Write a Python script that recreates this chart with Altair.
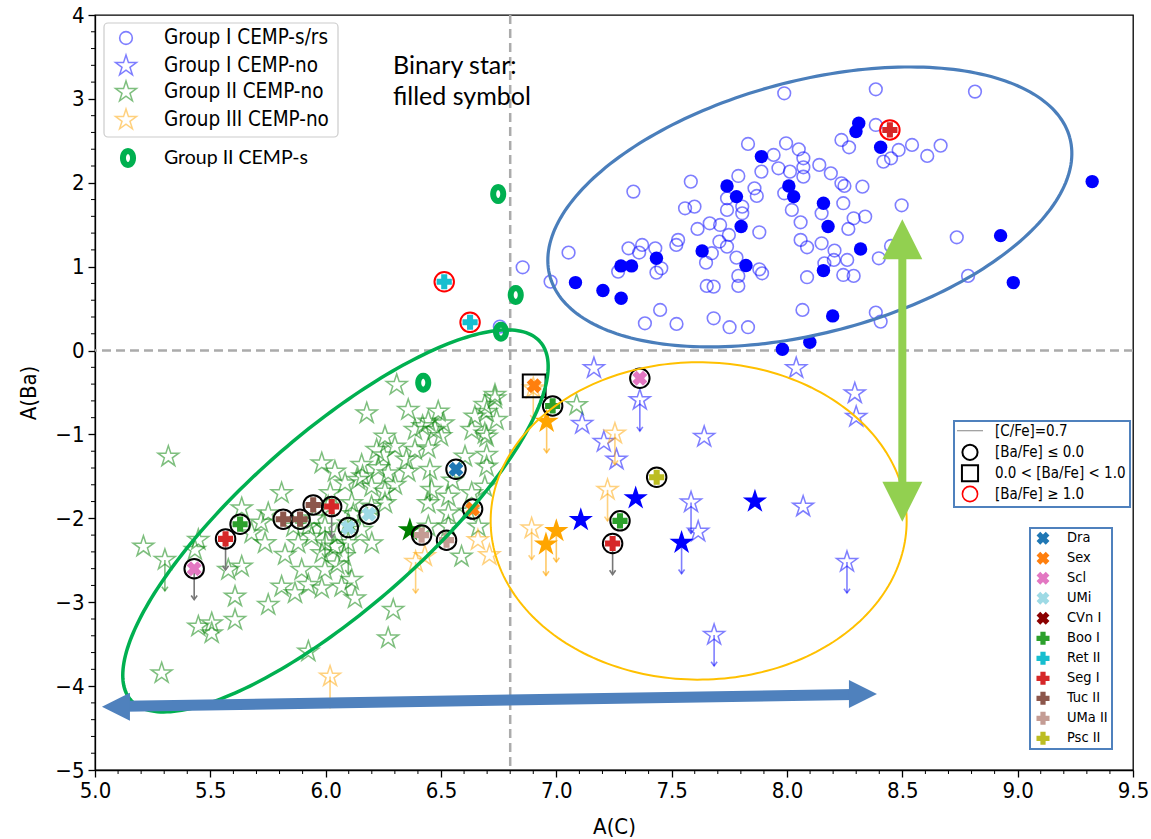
import altair as alt
import numpy as np
import pandas as pd

W, H = 1038, 755
X_DOM = [5.0, 9.5]
Y_DOM = [-5.0, 4.0]
PX_X = W / (X_DOM[1] - X_DOM[0])
PX_Y = H / (Y_DOM[1] - Y_DOM[0])
FONT = "DejaVu Sans Condensed, DejaVu Sans"
CAL = "Lato"

x_ticks = [5.0, 5.5, 6.0, 6.5, 7.0, 7.5, 8.0, 8.5, 9.0, 9.5]
y_ticks = [-5, -4, -3, -2, -1, 0, 1, 2, 3, 4]
x_minor = [round(5.0 + 0.1 * i, 1) for i in range(46) if i % 5 != 0]
y_minor = [round(-5.0 + 0.2 * i, 1) for i in range(46) if i % 5 != 0]

# Group I CEMP-s/rs (open circles)
g1s_x = [7.988, 8.385, 8.815, 8.385, 8.236, 8.269, 7.831, 7.996, 8.051, 7.942, 8.071, 8.140, 7.963, 8.013,
         8.071, 8.071, 7.889, 8.190, 7.789, 7.583, 7.334, 8.236, 8.249, 8.327, 7.859, 7.869, 7.988, 7.740,
         7.806, 7.740, 7.558, 7.599, 8.021, 8.244, 8.150, 8.497, 7.806, 8.289, 8.339, 8.059, 8.266, 7.665,
         7.612, 7.710, 7.880, 8.736, 7.528, 7.520, 7.748, 7.707, 7.740, 7.313, 7.372, 7.429, 7.359, 7.674,
         7.781, 8.059, 8.087, 8.150, 8.206, 8.261, 8.203, 8.398, 8.451, 7.649, 7.434, 7.455, 7.268, 7.053,
         6.975, 7.880, 7.892, 7.789, 7.652, 7.682, 7.789, 8.087, 8.162, 8.244, 8.289, 8.785, 7.450, 7.384,
         7.521, 7.682, 7.751, 7.831, 8.067, 8.385, 8.406, 8.542, 8.666, 8.608, 8.484, 8.451, 8.418, 6.854,
         6.748, 6.824, 6.755, 6.423]
g1s_y = [3.067, 3.114, 3.087, 2.689, 2.510, 2.423, 2.463, 2.471, 2.399, 2.332, 2.292, 2.213, 2.173, 2.133,
         2.185, 2.073, 2.133, 2.113, 2.081, 2.014, 1.895, 1.994, 1.962, 1.954, 1.934, 1.843, 1.875, 1.815,
         1.716, 1.676, 1.696, 1.716, 1.676, 1.756, 1.636, 1.732, 1.636, 1.577, 1.597, 1.529, 1.450, 1.517,
         1.450, 1.497, 1.410, 1.350, 1.319, 1.259, 1.378, 1.299, 1.239, 1.219, 1.259, 1.219, 1.168, 1.160,
         1.108, 1.319, 1.231, 1.279, 1.192, 1.080, 1.080, 1.100, 1.247, 1.048, 0.929, 0.981, 0.941, 1.168,
         0.822, 0.969, 0.921, 0.890, 0.770, 0.762, 0.770, 0.874, 1.040, 0.901, 0.890, 0.890, 0.484, 0.325,
         0.317, 0.385, 0.278, 0.278, 0.484, 0.453, 0.345, 2.451, 2.443, 2.320, 2.391, 2.292, 2.252, 0.993,
         1.866, 0.663, 0.285, -0.383]
# Group I CEMP-s/rs binaries (filled circles)
g1s_bin_x = [8.311, 8.299, 8.406, 7.889, 7.740, 7.781, 8.008, 8.029, 8.158, 8.178, 7.801, 7.632, 7.434, 7.822,
             7.280, 7.326, 8.319, 8.158, 7.083, 7.202, 7.281, 8.198, 8.926, 8.981, 9.323, 7.980, 8.099]
g1s_bin_y = [2.709, 2.610, 2.423, 2.312, 1.962, 1.835, 1.962, 1.835, 1.756, 1.478, 1.478, 1.188, 1.100, 1.013,
             1.009, 1.009, 1.211, 0.953, 0.810, 0.715, 0.623, 0.413, 1.370, 0.810, 2.014, 0.015, 0.099]

# Group I CEMP-no (open stars)
g1no_x = [7.163, 8.040, 8.294, 8.300, 7.112, 7.206, 7.261, 7.362, 7.641, 7.584, 7.615, 8.070, 8.260, 7.684]
g1no_y = [-0.21, -0.21, -0.51, -0.79, -0.875, -1.09, -1.30, -0.59, -1.03, -1.81, -2.16, -1.86, -2.52, -3.39]
g1no_ul = [0, 0, 0, 0, 0, 0, 0, 1, 0, 1, 0, 0, 1, 1]
g1no_bin_x = [7.106, 7.344, 7.543, 7.861]
g1no_bin_y = [-2.02, -1.76, -2.29, -1.80]
g1no_bin_ul = [0, 0, 1, 0]

# Group II CEMP-no (open stars)
g2no_x = [6.308, 6.734, 6.178, 6.358, 6.488, 6.445, 6.510, 6.647, 6.690, 6.741, 6.387, 6.474, 6.698, 6.633,
          6.257, 6.221, 6.300, 6.387, 6.445, 6.698, 6.604, 5.983, 6.040, 6.156, 6.228, 6.271, 6.358, 6.452,
          6.698, 5.809, 6.084, 6.141, 6.199, 6.257, 6.459, 6.532, 6.633, 6.690, 5.636, 5.751, 6.011, 6.113,
          6.199, 6.257, 6.445, 6.532, 6.618, 5.448, 5.679, 5.925, 5.997, 6.098, 6.156, 6.445, 6.532, 6.662,
          5.210, 5.433, 5.737, 5.824, 5.881, 5.939, 5.983, 6.040, 6.098, 6.589, 5.303, 5.578, 5.636, 5.896,
          5.997, 6.113, 5.809, 5.925, 5.983, 6.069, 6.127, 5.751, 5.607, 5.867, 5.607, 5.448, 5.506, 5.506,
          6.271, 6.293, 5.925, 5.289, 5.318, 6.734, 6.698, 6.690, 7.088, 6.050, 6.000, 6.080, 5.950, 6.120,
          6.020, 6.160, 6.250, 6.420, 6.500, 6.350, 6.550, 6.300, 5.860, 6.200, 5.720, 6.050]
g2no_y = [-0.410, -0.529, -0.748, -0.708, -0.728, -0.847, -0.867, -0.787, -0.648, -0.827, -0.946, -0.946,
          -1.026, -0.946, -1.026, -1.185, -1.145, -1.185, -1.165, -1.244, -1.264, -1.344, -1.443, -1.363,
          -1.403, -1.463, -1.443, -1.423, -1.383, -1.701, -1.582, -1.542, -1.622, -1.681, -1.661, -1.741,
          -1.701, -1.622, -1.880, -1.940, -1.860, -1.820, -1.860, -1.820, -1.820, -1.940, -1.920, -2.257,
          -2.178, -2.098, -2.098, -2.059, -2.138, -2.098, -2.098, -2.098, -2.337, -2.377, -2.297, -2.436,
          -2.297, -2.218, -2.416, -2.337, -2.297, -2.456, -2.496, -2.615, -2.575, -2.615, -2.615, -2.734,
          -2.814, -2.794, -2.834, -2.814, -2.953, -3.032, -2.933, -2.893, -3.211, -3.290, -3.251, -3.370,
          -3.430, -3.092, -3.588, -3.847, -1.264, -0.570, -0.730, -0.990, -0.650, -2.200, -2.300, -2.450,
          -2.000, -1.950, -1.700, -1.500, -1.250, -0.900, -1.020, -1.300, -1.550, -1.600, -2.100, -2.300,
          -2.050, -2.550]
g2no_ul_idx = [27, 50, 64, 66]
g2no_bin_x = [6.365]
g2no_bin_y = [-2.14]

# Group III CEMP-no (open stars)
g3no_x = [6.019, 6.390, 6.430, 6.660, 6.710, 6.893, 6.900, 7.254, 7.222]
g3no_y = [-3.886, -2.52, -2.45, -2.26, -2.44, -2.12, -0.45, -0.99, -1.66]
g3no_ul = [1, 1, 0, 0, 0, 1, 1, 1, 1]
g3no_bin_x = [6.958, 7.000, 6.955]
g3no_bin_y = [-0.847, -2.15, -2.31]
g3no_bin_ul = [1, 1, 1]

# Group II CEMP-s
g2s_x = [6.748, 6.824, 6.760, 6.423]
g2s_y = [1.866, 0.663, 0.225, -0.383]

# dwarf-galaxy stars
gal_names = ["Dra", "Sex", "Scl", "UMi", "CVn I", "Boo I", "Ret II", "Seg I", "Tuc II", "UMa II", "Psc II"]
gal_colors = ["#1f77b4", "#ff7f0e", "#e377c2", "#9edae5", "#8b0000", "#2ca02c", "#17becf", "#d62728",
              "#8c564b", "#c49c94", "#bcbd22"]
gal_marker = ["x", "x", "x", "x", "x", "+", "+", "+", "+", "+", "+"]
dw_x = [5.430, 5.566, 5.629, 5.816, 5.889, 5.946, 6.026, 6.098, 6.188, 6.416, 6.524, 6.565, 6.637, 6.904,
        6.984, 7.362, 7.435, 7.276, 7.244, 6.514, 6.626, 8.446]
dw_y = [-2.60, -2.245, -2.07, -2.01, -2.01, -1.84, -1.86, -2.11, -1.95, -2.20, -2.26, -1.415, -1.89, -0.42,
        -0.66, -0.33, -1.51, -2.03, -2.30, 0.82, 0.337, 2.63]
dw_gal = ["Scl", "Seg I", "Boo I", "Tuc II", "Tuc II", "Tuc II", "Seg I", "UMi", "UMi", "UMa II", "UMa II",
          "Dra", "Sex", "Sex", "Boo I", "Scl", "Psc II", "Boo I", "Seg I", "Ret II", "Ret II", "Seg I"]
dw_ba = ["low"] * 13 + ["mid"] + ["low"] * 5 + ["high"] * 3
dw_ul = [1, 1, 0, 0, 0, 0, 1, 0, 0, 0, 0, 0, 0, 0, 0, 0, 0, 0, 1, 0, 0, 0]

leg1_labels = ["Group I CEMP-s/rs", "Group I CEMP-no", "Group II CEMP-no", "Group III CEMP-no"]
leg2_labels = ["[C/Fe]=0.7", "[Ba/Fe] ≤ 0.0", "0.0 < [Ba/Fe] < 1.0", "[Ba/Fe] ≥ 1.0"]

UL_LEN = 0.37

STAR = ("M0,-1L0.2245,-0.309L0.951,-0.309L0.3633,0.118L0.5878,0.809L0,0.382"
        "L-0.5878,0.809L-0.3633,0.118L-0.951,-0.309L-0.2245,-0.309Z")
CHEV = "M-1,-1.4L0,0L1,-1.4"
_t = np.linspace(0, 2 * np.pi, 25)[:-1]
OVAL = "M" + "L".join(f"{0.72*np.cos(a):.3f},{np.sin(a):.3f}" for a in _t) + "Z"
HEAD_UP = "M0,0L0.95,1.9L-0.95,1.9Z"
HEAD_DOWN = "M0,0L0.95,-1.9L-0.95,-1.9Z"
HEAD_LEFT = "M0,0L2,-1L2,1Z"
HEAD_RIGHT = "M0,0L-2,-1L-2,1Z"

xscale = alt.Scale(domain=X_DOM, nice=False, zero=False)
yscale = alt.Scale(domain=Y_DOM, nice=False, zero=False)
common_axis = dict(grid=False, tickSize=7, tickWidth=1.3, tickColor="black", domainColor="black",
                   domainWidth=1.3, labelFont=FONT, labelFontSize=22, labelColor="black",
                   titleFont=FONT, titleFontSize=22, titleColor="black", titleFontWeight="normal",
                   labelFlush=False, labelOverlap=False, titleBaseline="middle", titleAlign="center")
xaxis = alt.Axis(title="A(C)", values=x_ticks, format=".1f", labelPadding=3, titleX=W / 2, titleY=56,
                 **common_axis)
yaxis = alt.Axis(title="A(Ba)", values=y_ticks, format="d", labelPadding=4, titleX=-67, titleY=H / 2,
                 titleAngle=270, **common_axis)


def XE(f="x"):
    return alt.X(f"{f}:Q", scale=xscale, axis=xaxis)


def YE(f="y"):
    return alt.Y(f"{f}:Q", scale=yscale, axis=yaxis)


def scatter(xs_, ys_, **kw):
    df = pd.DataFrame({"x": xs_, "y": ys_})
    return alt.Chart(df).mark_point(**kw).encode(x=XE(), y=YE())


def ularrows(xs_, ys_, flags, color, opacity):
    rows = [(x, y, y - UL_LEN) for x, y, f in zip(xs_, ys_, flags) if f]
    df = pd.DataFrame(rows, columns=["x", "y", "y2"])
    line = alt.Chart(df).mark_rule(color=color, opacity=opacity, strokeWidth=1.6).encode(
        x=XE(), y=YE(), y2="y2:Q")
    head = alt.Chart(df).mark_point(shape=CHEV, size=36, filled=False, color=color, opacity=opacity,
                                    strokeWidth=1.6).encode(x=XE(), y=YE("y2"))
    return [line, head]


def ellipse(cx, cy, a_px, b_px, theta_deg, n=240):
    t = np.linspace(0, 2 * np.pi, n)
    th = np.radians(theta_deg)
    u, v = a_px * np.cos(t), b_px * np.sin(t)
    dx = u * np.cos(th) - v * np.sin(th)
    dy = u * np.sin(th) + v * np.cos(th)
    return pd.DataFrame({"x": cx + dx / PX_X, "y": cy + dy / PX_Y, "i": np.arange(n)})


def PX(f="px"):
    return alt.X(f"{f}:Q", scale=None, axis=None)


def PY(f="py"):
    return alt.Y(f"{f}:Q", scale=None, axis=None)


def pix_point(px, py, **kw):
    return alt.Chart(pd.DataFrame({"px": [px], "py": [py]})).mark_point(**kw).encode(x=PX(), y=PY())


def pix_text(px, py, txt, **kw):
    return alt.Chart(pd.DataFrame({"px": [px], "py": [py], "t": [txt]})).mark_text(**kw).encode(
        x=PX(), y=PY(), text="t:N")


one = pd.DataFrame({"a": [0]})
layers = []

# minor ticks
layers.append(alt.Chart(pd.DataFrame({"x": x_minor})).mark_rule(color="black", strokeWidth=1).encode(
    x=XE(), y=alt.value(H), y2=alt.value(H + 4)))
layers.append(alt.Chart(pd.DataFrame({"y": y_minor})).mark_rule(color="black", strokeWidth=1).encode(
    y=YE(), x=alt.value(0), x2=alt.value(-4)))

# dashed reference lines
layers.append(alt.Chart(pd.DataFrame({"x": [6.8]})).mark_rule(color="#ababab", strokeWidth=2.5,
                                                             strokeDash=[9, 5]).encode(x=XE()))
layers.append(alt.Chart(pd.DataFrame({"y": [0.0]})).mark_rule(color="#ababab", strokeWidth=2.5,
                                                             strokeDash=[9, 5]).encode(y=YE()))

# Group I CEMP-s/rs
layers.append(scatter(g1s_x, g1s_y, shape="circle", size=160, filled=False, color="blue", opacity=0.5,
                      strokeWidth=1.6))
layers.append(scatter(g1s_bin_x, g1s_bin_y, shape="circle", size=180, filled=True, color="blue", opacity=1))

# Group II CEMP-no
g2_flags = [1 if i in g2no_ul_idx else 0 for i in range(len(g2no_x))]
layers += ularrows(g2no_x, g2no_y, g2_flags, "green", 0.5)
layers.append(scatter(g2no_x, g2no_y, shape=STAR, size=480, filled=False, color="green", opacity=0.5,
                      strokeWidth=1.5))
layers.append(scatter(g2no_bin_x, g2no_bin_y, shape=STAR, size=650, filled=True, color="green", opacity=1))

# Group I CEMP-no
layers += ularrows(g1no_x, g1no_y, g1no_ul, "blue", 0.5)
layers.append(scatter(g1no_x, g1no_y, shape=STAR, size=480, filled=False, color="blue", opacity=0.5,
                      strokeWidth=1.5))
layers += ularrows(g1no_bin_x, g1no_bin_y, g1no_bin_ul, "blue", 0.5)
layers.append(scatter(g1no_bin_x, g1no_bin_y, shape=STAR, size=650, filled=True, color="blue", opacity=1))

# Group III CEMP-no
layers += ularrows(g3no_x, g3no_y, g3no_ul, "orange", 0.5)
layers.append(scatter(g3no_x, g3no_y, shape=STAR, size=480, filled=False, color="orange", opacity=0.5,
                      strokeWidth=1.5))
layers += ularrows(g3no_bin_x, g3no_bin_y, g3no_bin_ul, "orange", 0.6)
layers.append(scatter(g3no_bin_x, g3no_bin_y, shape=STAR, size=650, filled=True, color="orange", opacity=1))

# Group II CEMP-s
layers.append(scatter(g2s_x, g2s_y, shape=OVAL, size=196, filled=False, color="#00b050", opacity=1,
                      strokeWidth=6))

# dwarf galaxy stars
dw = pd.DataFrame({"x": dw_x, "y": dw_y, "gal": dw_gal, "ba": dw_ba, "ul": dw_ul})
layers += ularrows(dw_x, dw_y, dw_ul, "#777777", 1)
for kind, shp, col, sz in [("low", "circle", "black", 380), ("mid", "square", "black", 520),
                           ("high", "circle", "red", 380)]:
    sub = dw[dw.ba == kind]
    layers.append(alt.Chart(sub).mark_point(shape=shp, size=sz, filled=False, color=col, opacity=1,
                                            strokeWidth=2).encode(x=XE(), y=YE()))
gal_color_scale = alt.Scale(domain=gal_names, range=gal_colors)
xs_gal = [g for g, m in zip(gal_names, gal_marker) if m == "x"]
layers.append(alt.Chart(dw[dw.gal.isin(xs_gal)]).mark_point(shape="cross", angle=45, size=230, filled=True,
                                                            opacity=1).encode(
    x=XE(), y=YE(), color=alt.Color("gal:N", scale=gal_color_scale, legend=None)))
layers.append(alt.Chart(dw[~dw.gal.isin(xs_gal)]).mark_point(shape="cross", size=230, filled=True,
                                                             opacity=1).encode(
    x=XE(), y=YE(), color=alt.Color("gal:N", scale=gal_color_scale, legend=None)))

# ellipses
for (cx, cy, a, b, th, col, sw) in [(8.099, 1.712, 269, 126, 14.85, "#4a7ebb", 3.2),
                                    (6.0425, -2.031, 272, 88, 41.2, "#00b050", 3.5),
                                    (7.617, -2.031, 208, 158.7, 0, "#ffc000", 2)]:
    layers.append(alt.Chart(ellipse(cx, cy, a, b, th)).mark_line(color=col, strokeWidth=sw).encode(
        x=XE(), y=YE(), order="i:Q"))

# big arrows
g_arrow = {"x": 8.5, "top": 1.565, "bot": -2.04}
layers.append(alt.Chart(pd.DataFrame({"x": [g_arrow["x"]], "y": [g_arrow["top"] - 0.35],
                                      "y2": [g_arrow["bot"] + 0.35]})).mark_rule(
    color="#92d050", strokeWidth=8).encode(x=XE(), y=YE(), y2="y2:Q"))
layers.append(scatter([g_arrow["x"]], [g_arrow["top"]], shape=HEAD_UP, size=1764, filled=True,
                      color="#92d050", opacity=1))
layers.append(scatter([g_arrow["x"]], [g_arrow["bot"]], shape=HEAD_DOWN, size=1764, filled=True,
                      color="#92d050", opacity=1))
b_arrow_x = [5.03, 8.39]
b_arrow_y = [-4.245, -4.095]
layers.append(alt.Chart(pd.DataFrame({"x": [b_arrow_x[0] + 0.1, b_arrow_x[1] - 0.1],
                                      "y": [b_arrow_y[0] + 0.004, b_arrow_y[1] - 0.004],
                                      "i": [0, 1]})).mark_line(color="#4f81bd", strokeWidth=11).encode(
    x=XE(), y=YE(), order="i:Q"))
layers.append(scatter([b_arrow_x[0]], [b_arrow_y[0]], shape=HEAD_LEFT, size=784, filled=True,
                      color="#4f81bd", opacity=1))
layers.append(scatter([b_arrow_x[1]], [b_arrow_y[1]], shape=HEAD_RIGHT, size=784, filled=True,
                      color="#4f81bd", opacity=1))

# legend 1
layers.append(alt.Chart(one).mark_rect(fill="white", fillOpacity=0.85, stroke="#cccccc", strokeWidth=1.2,
                                       cornerRadius=4).encode(
    x=alt.value(9), x2=alt.value(243), y=alt.value(8), y2=alt.value(122)))
leg1_rows = [23, 51, 77, 105]
layers.append(pix_point(31, leg1_rows[0], shape="circle", size=160, filled=False, color="blue", opacity=0.5,
                        strokeWidth=1.6))
layers.append(pix_point(31, leg1_rows[1], shape=STAR, size=480, filled=False, color="blue", opacity=0.5,
                        strokeWidth=1.5))
layers.append(pix_point(31, leg1_rows[2], shape=STAR, size=480, filled=False, color="green", opacity=0.5,
                        strokeWidth=1.5))
layers.append(pix_point(31, leg1_rows[3], shape=STAR, size=480, filled=False, color="orange", opacity=0.5,
                        strokeWidth=1.5))
for r, lab in zip(leg1_rows, leg1_labels):
    layers.append(pix_text(69, r, lab, align="left", baseline="middle", font=FONT, fontSize=20.5,
                           color="black"))
layers.append(pix_point(33, 143, shape=OVAL, size=196, filled=False, color="#00b050", opacity=1,
                        strokeWidth=6))
layers.append(pix_text(69, 143, "Group II CEMP-s", align="left", baseline="middle", font=CAL, fontSize=19.5,
                       color="black"))
layers.append(pix_text(298, 51, "Binary star:", align="left", baseline="middle", font=CAL, fontSize=25,
                       color="black"))
layers.append(pix_text(298, 82, "filled symbol", align="left", baseline="middle", font=CAL, fontSize=25,
                       color="black"))

# legend 2
layers.append(alt.Chart(one).mark_rect(fill="white", stroke="#4f81bd", strokeWidth=2).encode(
    x=alt.value(859), x2=alt.value(1035), y=alt.value(406), y2=alt.value(492)))
leg2_rows = [415.7, 437.3, 458.3, 479]
layers.append(alt.Chart(one).mark_rule(color="#999999", strokeWidth=1.2).encode(
    x=alt.value(862), x2=alt.value(888), y=alt.value(leg2_rows[0])))
layers.append(pix_point(875, leg2_rows[1], shape="circle", size=230, filled=False, color="black", opacity=1,
                        strokeWidth=2))
layers.append(pix_point(875, leg2_rows[2], shape="square", size=260, filled=False, color="black", opacity=1,
                        strokeWidth=2))
layers.append(pix_point(875, leg2_rows[3], shape="circle", size=230, filled=False, color="red", opacity=1,
                        strokeWidth=1.6))
for r, lab in zip(leg2_rows, leg2_labels):
    layers.append(pix_text(900, r, lab, align="left", baseline="middle", font=FONT, fontSize=15,
                           color="black"))

# legend 3
layers.append(alt.Chart(one).mark_rect(fill="white", stroke="#4f81bd", strokeWidth=2).encode(
    x=alt.value(935), x2=alt.value(1017), y=alt.value(513), y2=alt.value(734)))
for k, (g, c, m) in enumerate(zip(gal_names, gal_colors, gal_marker)):
    r = 523.3 + 20 * k
    if m == "x":
        layers.append(pix_point(948, r, shape="cross", angle=45, size=170, filled=True, color=c, opacity=1))
    else:
        layers.append(pix_point(948, r, shape="cross", size=170, filled=True, color=c, opacity=1))
    layers.append(pix_text(972, r, g, align="left", baseline="middle", font=FONT, fontSize=14.5,
                           color="black"))

chart = alt.layer(*layers).properties(
    width=W, height=H, autosize="none",
    padding={"left": 95, "top": 15, "right": 18, "bottom": 69},
).configure_view(stroke="black", strokeWidth=1.3)

chart.save("out.html", embed_options={"renderer": "svg", "actions": False})
